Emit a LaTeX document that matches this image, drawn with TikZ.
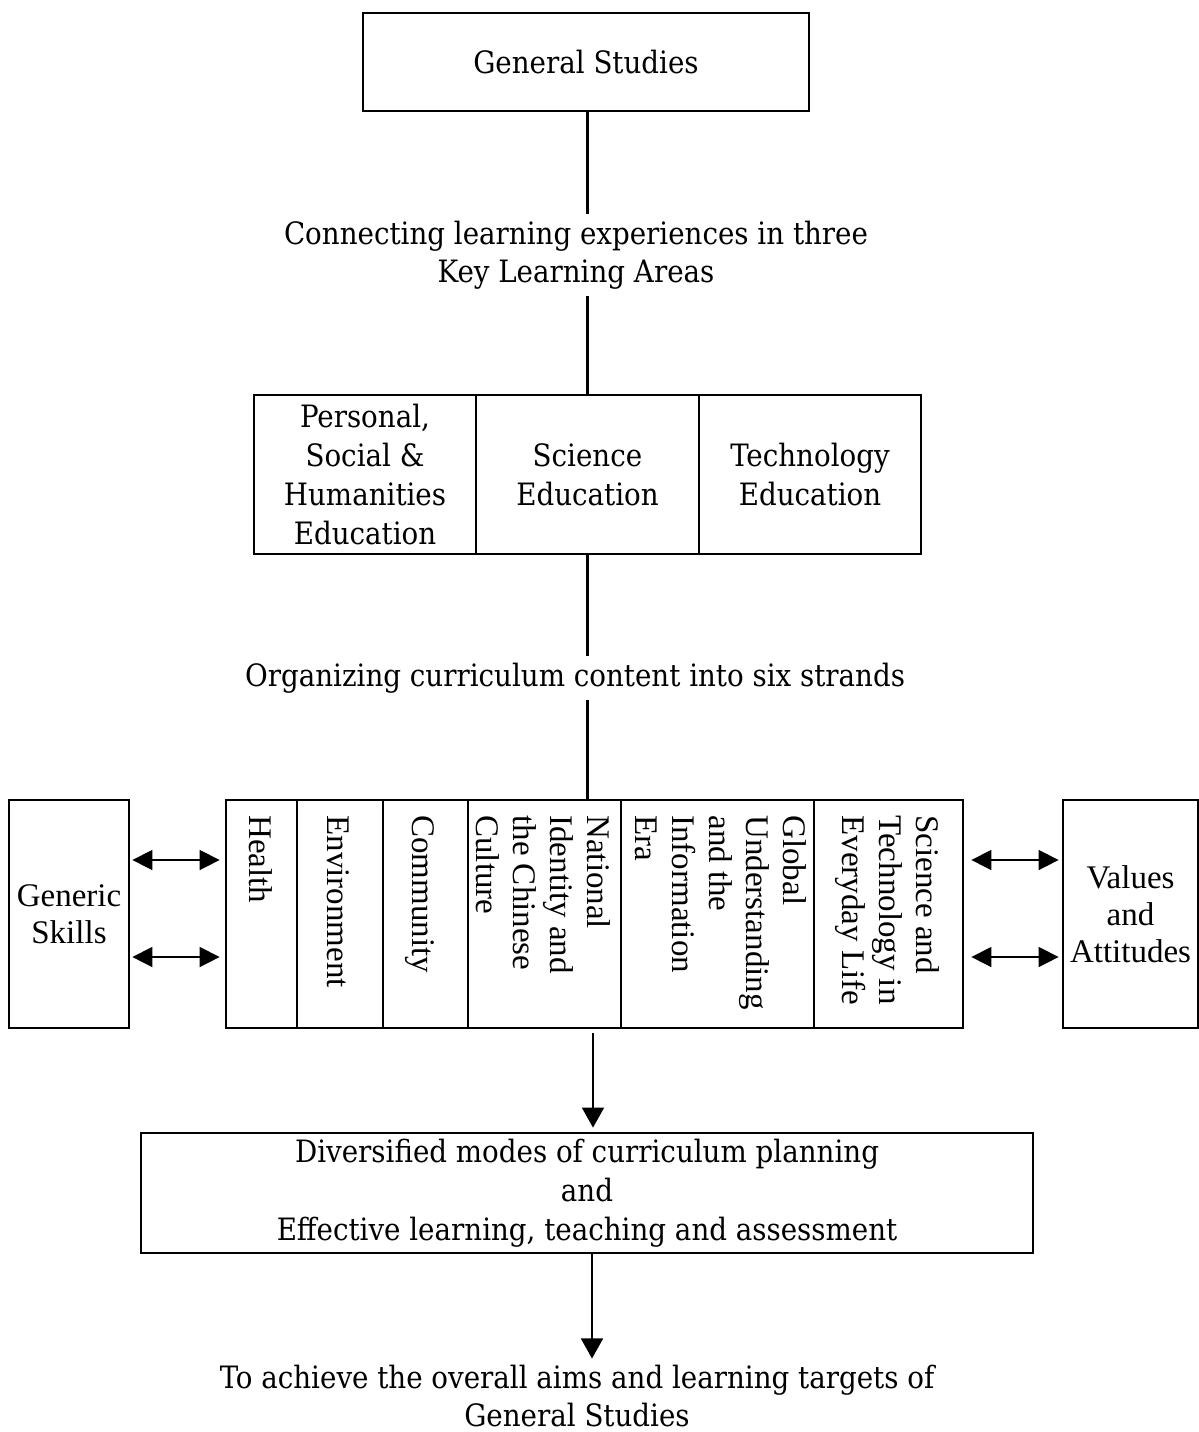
\documentclass[tikz,border=0pt]{standalone}
\usepackage{fontspec}
\setmainfont{DejaVu Serif Condensed}
\newfontfamily\tms{Liberation Serif}
\usetikzlibrary{arrows.meta}
\begin{document}
\begin{tikzpicture}[x=0.5pt,y=-0.5pt,
 box/.style={draw,line width=1.4pt,inner sep=0pt,align=center,font=\fontsize{15.4}{19.6}\selectfont},
 tbox/.style={draw,line width=1.4pt,inner sep=0pt,align=center,font=\tms\fontsize{16.5}{18.5}\selectfont},
 lbl/.style={align=center,inner sep=3pt,font=\fontsize{15.4}{19.2}\selectfont},
 vtxt/.style={rotate=-90,anchor=west,align=left,inner sep=0pt,font=\tms\fontsize{16.5}{18.5}\selectfont},
 conn/.style={line width=1.2pt},
 arr/.style={line width=0.8pt,-{Triangle[length=10pt,width=11pt]}},
 darr/.style={line width=0.8pt,{Triangle[length=10pt,width=10pt]}-{Triangle[length=10pt,width=10pt]}}]
\useasboundingbox (0,0) rectangle (1199,1432);

% top box
\node[box,minimum width=223pt,minimum height=49pt] (gs) at (586,62) {General Studies};
\node[lbl] (conn) at (576,255) {Connecting learning experiences in three\\Key Learning Areas};

% KLA
\node[box,minimum width=111pt,minimum height=79.5pt] (k1) at (365,474.5) {Personal,\\Social \&\\Humanities\\Education};
\node[box,minimum width=111.5pt,minimum height=79.5pt] (k2) at (587.5,474.5) {Science\\Education};
\node[box,minimum width=111pt,minimum height=79.5pt] (k3) at (810,474.5) {Technology\\Education};

\node[lbl] (org) at (575,678) {Organizing curriculum content into six strands};

% strands
\node[box,minimum width=35.5pt,minimum height=114pt] (s1) at (261.5,914) {};
\node[box,minimum width=43pt,minimum height=114pt] (s2) at (340,914) {};
\node[box,minimum width=42.5pt,minimum height=114pt] (s3) at (425.5,914) {};
\node[box,minimum width=76.5pt,minimum height=114pt] (s4) at (544.5,914) {};
\node[box,minimum width=96.5pt,minimum height=114pt] (s5) at (717.5,914) {};
\node[box,minimum width=74.5pt,minimum height=114pt] (s6) at (888.5,914) {};

\node[vtxt] (t1) at (261,815) {Health};
\node[vtxt] (t2) at (338,815) {Environment};
\node[vtxt] (t3) at (420,815) {Community};
\node[vtxt] (t4) at (543,815) {National\\Identity and\\the Chinese\\Culture};
\node[vtxt] (t5) at (721,815) {Global\\Understanding\\and the\\Information\\Era};
\node[vtxt] (t6) at (887,815) {Science and\\Technology in\\Everyday Life};

% side boxes
\node[tbox,minimum width=60pt,minimum height=114pt] (gen) at (69,914) {Generic\\Skills};
\node[tbox,minimum width=67.5pt,minimum height=114pt] (val) at (1130.5,914) {Values\\and\\Attitudes};

% bottom
\node[box,minimum width=446pt,minimum height=60pt] (plan) at (587,1193) {Diversified modes of curriculum planning\\and\\Effective learning, teaching and assessment};
\node[lbl] (aim) at (577,1396) {To achieve the overall aims and learning targets of\\General Studies};

% connectors
\draw[conn] (gs.south -| k2.north) -- (conn.north -| k2.north);
\draw[conn] (conn.south -| k2.north) -- (k2.north);
\draw[conn] (k2.south) -- (org.north -| k2.south);
\draw[conn] (org.south -| k2.south) -- (s4.north -| k2.south);

\coordinate (ya) at (0,860);
\coordinate (yb) at (0,957);
\draw[darr,shorten <=1pt,shorten >=2.5pt] (gen.east |- ya) -- (s1.west |- ya);
\draw[darr,shorten <=1pt,shorten >=2.5pt] (gen.east |- yb) -- (s1.west |- yb);
\draw[darr,shorten <=3.5pt,shorten >=1.5pt] (s6.east |- ya) -- (val.west |- ya);
\draw[darr,shorten <=3.5pt,shorten >=1.5pt] (s6.east |- yb) -- (val.west |- yb);

\coordinate (xa) at (593,0);
\coordinate (xb) at (592,0);
\draw[arr,shorten <=2pt,shorten >=2pt] (s4.south -| xa) -- (plan.north -| xa);
\draw[arr] (plan.south -| xb) -- (aim.north -| xb);
\end{tikzpicture}
\end{document}
